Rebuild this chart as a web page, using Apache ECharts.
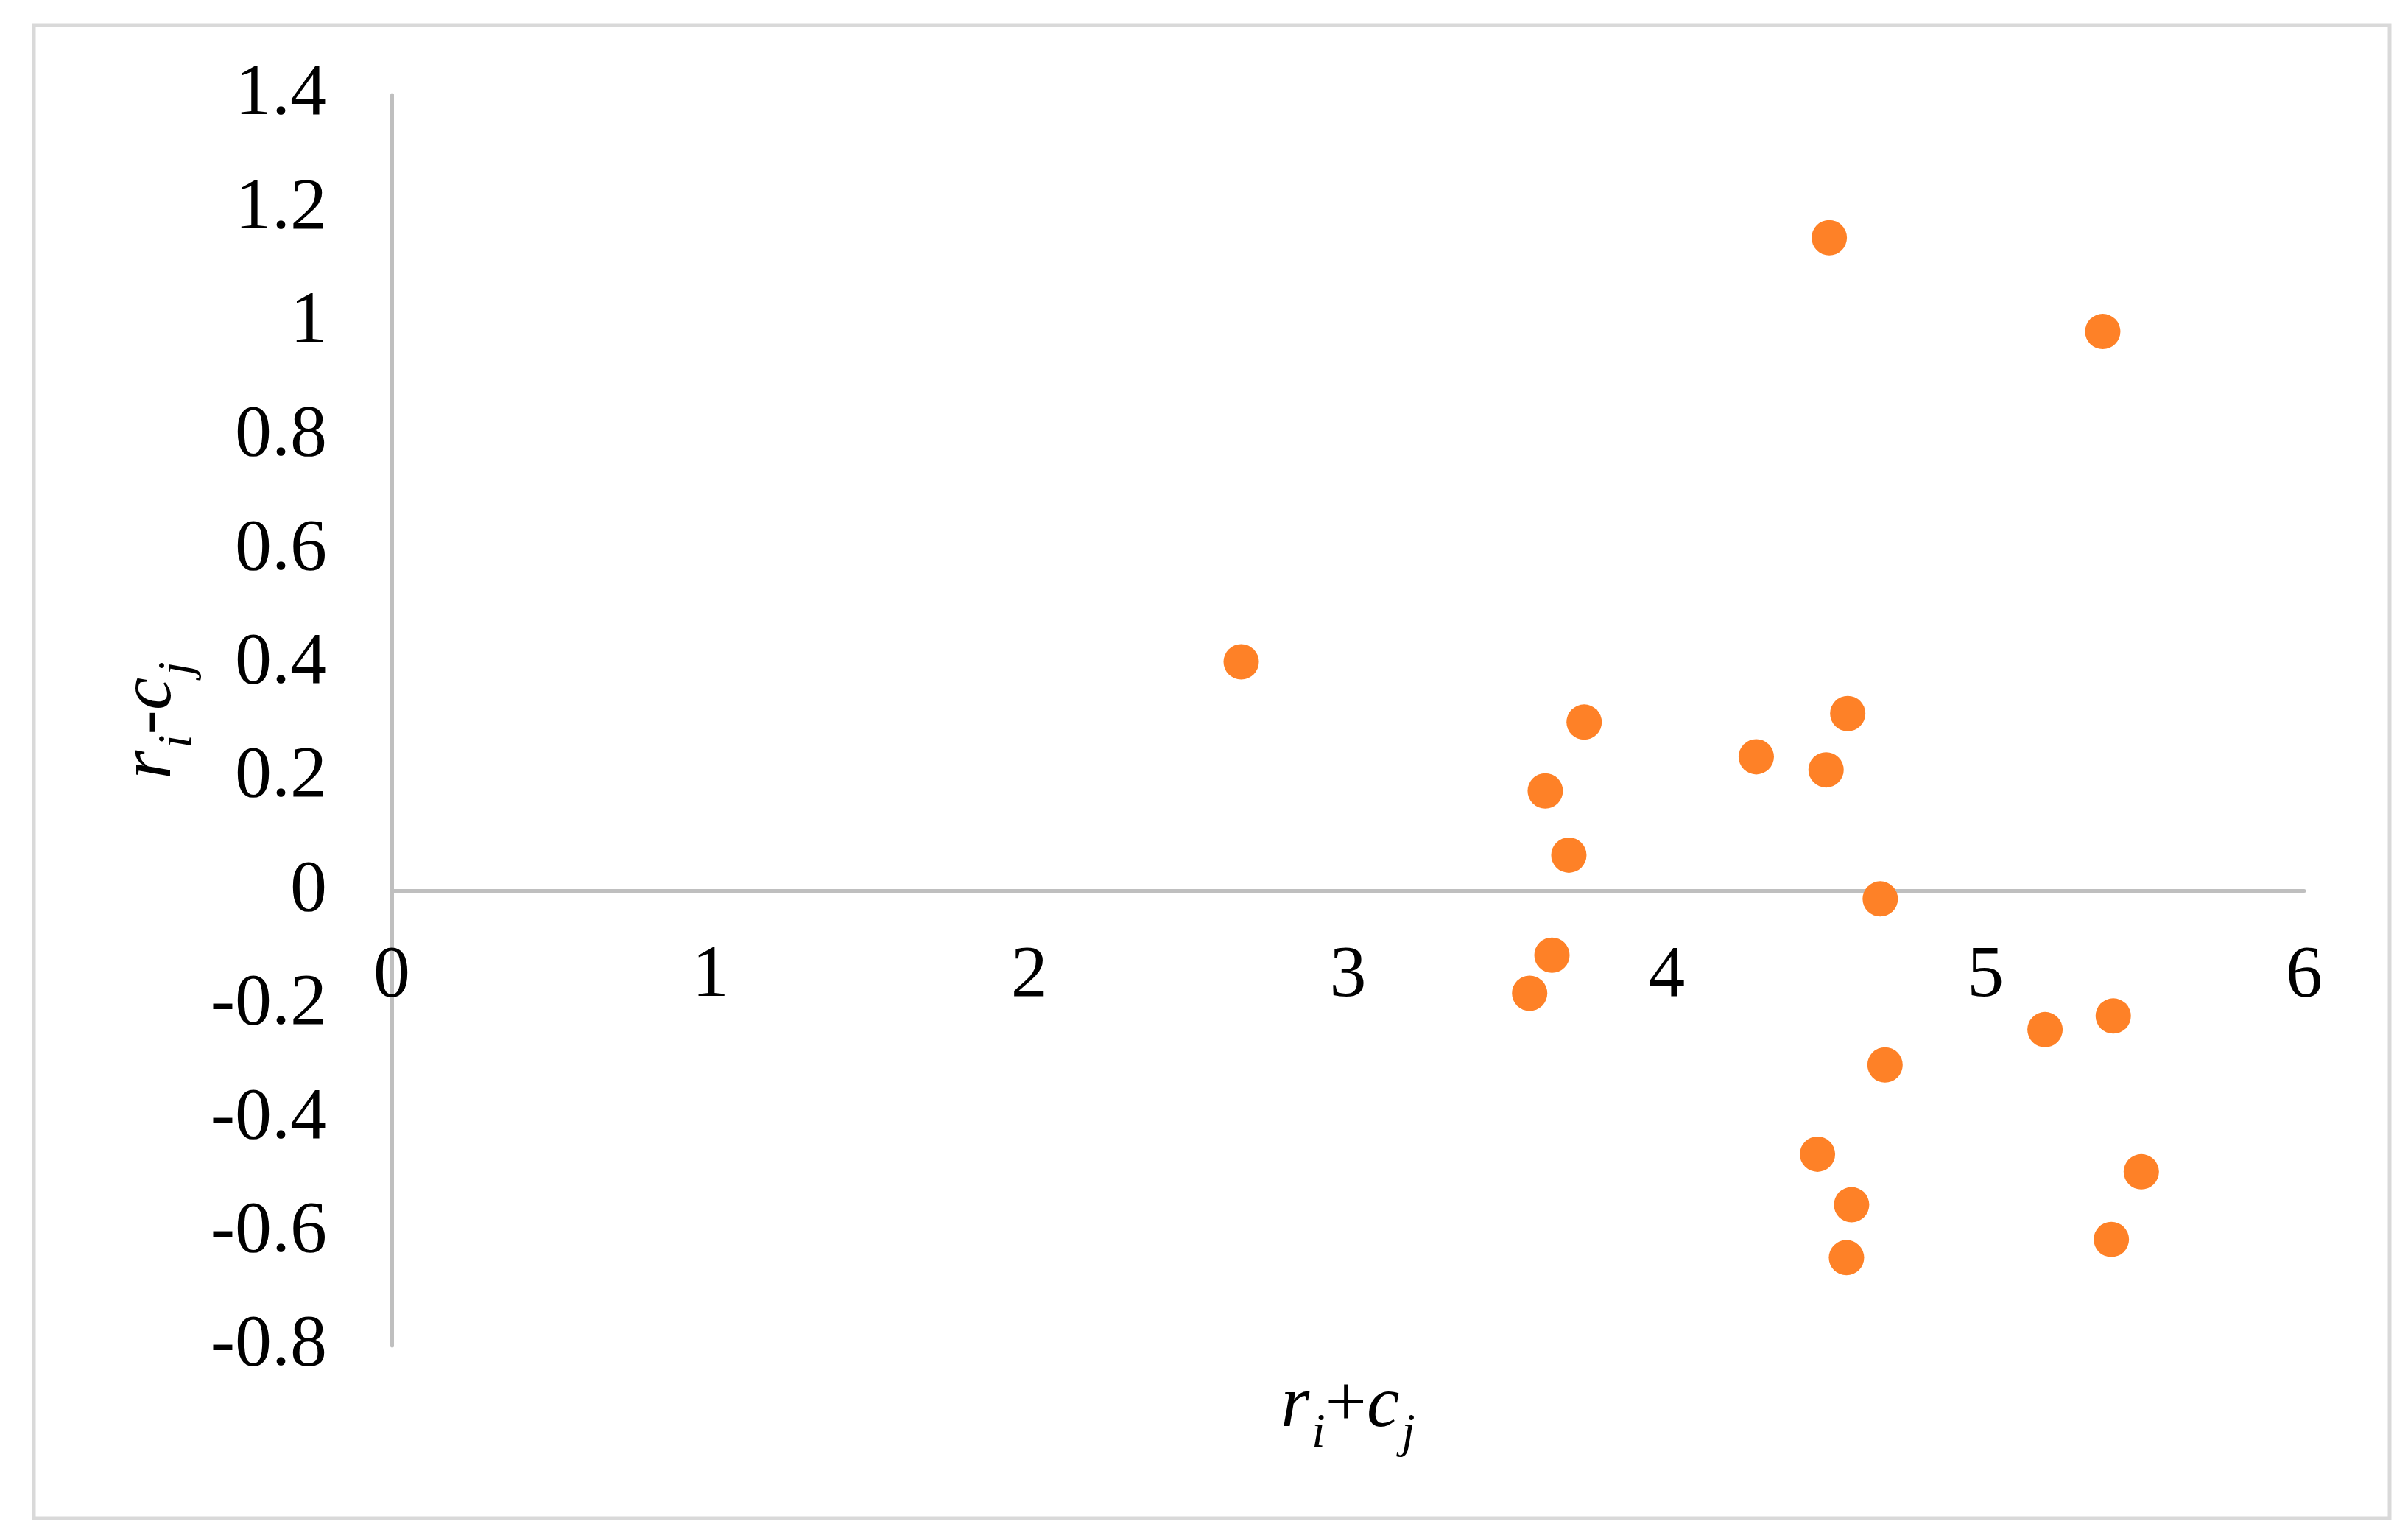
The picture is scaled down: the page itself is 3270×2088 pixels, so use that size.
<!DOCTYPE html>
<html>
<head>
<meta charset="UTF-8">
<title>r+c / r-c</title>
<style type="text/css">
	html, body { margin: 0; padding: 0; background: #fff; }
	#main { width: 3270px; height: 2088px; }
</style>
<script type="text/javascript" src="https://cdn.jsdelivr.net/npm/echarts@6/dist/echarts.min.js"></script>
</head>
<body>
<div id="main"></div>
<script type="text/javascript">
	// r_i + c_j
	var xValues = [2.665, 3.741, 3.619, 3.693, 3.640, 3.570, 4.281, 4.500, 4.568, 4.510,
		5.368, 4.670, 4.685, 4.473, 4.580, 4.564, 5.187, 5.401, 5.489, 5.395];
	// r_i - c_j
	var yValues = [0.403, 0.297, 0.176, 0.063, -0.113, -0.180, 0.236, 0.213, 0.312, 1.149,
		0.984, -0.014, -0.306, -0.463, -0.552, -0.645, -0.244, -0.220, -0.494, -0.613];

	var xTicks = [0, 6, 1];      // min, max, interval
	var yTicks = [-0.8, 1.4, 0.2];

	var points = xValues.map(function (x, i) { return [x, yValues[i]]; });

	var gridTop = 129, gridBottom = 261, H = 2088;
	// move the whole x axis (line, labels, name) up to y = 0
	var xOffset = -(0 - yTicks[0]) / (yTicks[1] - yTicks[0]) * (H - gridTop - gridBottom);

	var font = '"Liberation Serif", "Times New Roman", serif';
	var nameRich = {
		m: { fontFamily: font, fontSize: 100, fontStyle: 'italic', color: '#000' },
		op: { fontFamily: font, fontSize: 100, color: '#000' },
		s: { fontFamily: font, fontSize: 66, fontStyle: 'italic', color: '#000', padding: [74, 0, 0, 3] }
	};

	var chart = echarts.init(document.getElementById('main'));
	var option = {
		animation: false,
		backgroundColor: '#fff',
		graphic: [{
			type: 'rect',
			shape: { x: 46, y: 34, width: 3199, height: 2027 },
			style: { fill: 'none', stroke: '#d9d9d9', lineWidth: 5 },
			silent: true
		}],
		grid: { left: 532, right: 141, top: gridTop, bottom: gridBottom, containLabel: false, outerBoundsMode: 'none' },
		xAxis: {
			type: 'value',
			min: xTicks[0], max: xTicks[1], interval: xTicks[2],
			offset: xOffset,
			axisLine: { onZero: false, lineStyle: { color: '#bfbfbf', width: 5 } },
			axisTick: { show: false },
			splitLine: { show: false },
			axisLabel: { fontFamily: font, fontSize: 100, color: '#000', margin: 66 },
			name: '{m|r}{s|i}{op|+}{m|c}{s|j}',
			nameLocation: 'middle',
			nameGap: 630,
			nameTextStyle: { rich: nameRich }
		},
		yAxis: {
			type: 'value',
			min: yTicks[0], max: yTicks[1], interval: yTicks[2],
			axisLine: { show: true, lineStyle: { color: '#bfbfbf', width: 5 } },
			axisTick: { show: false },
			splitLine: { show: false },
			axisLabel: {
				fontFamily: font, fontSize: 100, color: '#000', margin: 88,
				formatter: function (v) { return String(Math.round(v * 10) / 10); }
			},
			name: '{m|r}{s|i}{op|-}{m|c}{s|j}',
			nameLocation: 'middle',
			nameGap: 250,
			nameTextStyle: { rich: nameRich }
		},
		series: [{
			type: 'scatter',
			data: points,
			symbolSize: 48,
			itemStyle: { color: '#fe8127', opacity: 1 }
		}]
	};
	chart.setOption(option);
</script>
</body>
</html>
